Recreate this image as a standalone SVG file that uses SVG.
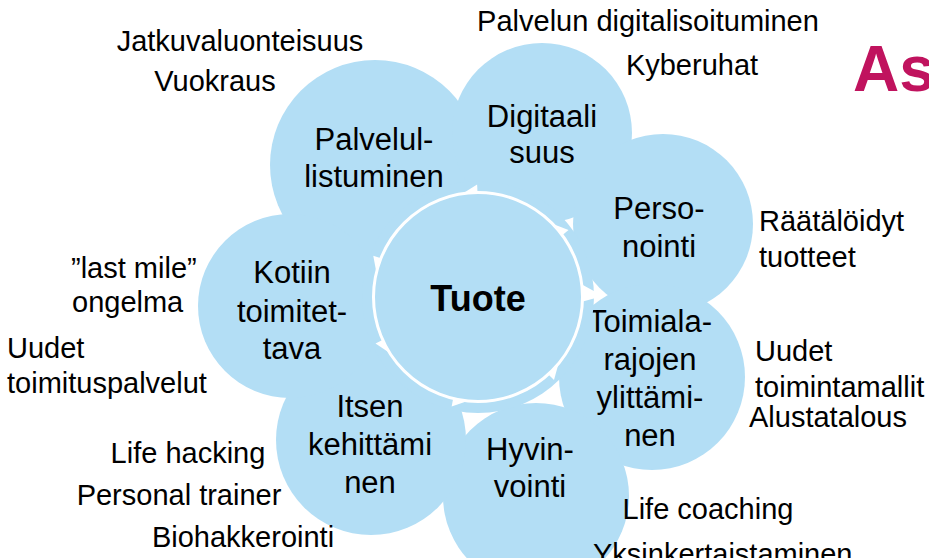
<svg xmlns="http://www.w3.org/2000/svg" width="929" height="558" viewBox="0 0 929 558">
<style>
.petal{fill:#B3DEF5;stroke:none}
.lbl{font-family:"Liberation Sans",Arial,sans-serif;font-size:31px;fill:#000;text-anchor:middle}
.ann{font-family:"Liberation Sans",Arial,sans-serif;font-size:29px;fill:#000}
.mid{text-anchor:middle}
.hub{fill:#B3DEF5;stroke:#fff;stroke-width:3}
.arrow{fill:#fff;stroke:none}
</style>
<rect width="929" height="558" fill="#fff"/>
<g id="palvelullistuminen">
<circle class="petal" cx="375" cy="165" r="105"/>
<text class="lbl" x="374" y="150">Palvelul-</text>
<text class="lbl" x="374" y="187">listuminen</text>
</g>
<g id="digitaalisuus">
<circle class="petal" cx="542" cy="133" r="90"/>
<text class="lbl" x="542" y="127">Digitaali</text>
<text class="lbl" x="542" y="163">suus</text>
</g>
<g id="personointi">
<circle class="petal" cx="663" cy="224" r="90"/>
<text class="lbl" x="659" y="219">Perso-</text>
<text class="lbl" x="659" y="257">nointi</text>
</g>
<g id="toimialarajojen">
<circle class="petal" cx="652" cy="377" r="93"/>
<text class="lbl" x="650" y="332">Toimiala-</text>
<text class="lbl" x="650" y="370">rajojen</text>
<text class="lbl" x="650" y="408">ylittämi-</text>
<text class="lbl" x="650" y="446">nen</text>
</g>
<g id="hyvinvointi">
<circle class="petal" cx="536" cy="496" r="93"/>
<text class="lbl" x="530" y="460">Hyvin-</text>
<text class="lbl" x="530" y="497">vointi</text>
</g>
<g id="itsenkehittaminen">
<circle class="petal" cx="371" cy="440" r="95"/>
<text class="lbl" x="370" y="417">Itsen</text>
<text class="lbl" x="370" y="455">kehittämi</text>
<text class="lbl" x="370" y="493">nen</text>
</g>
<g id="kotiintoimitettava">
<circle class="petal" cx="290" cy="306" r="92"/>
<text class="lbl" x="292" y="283">Kotiin</text>
<text class="lbl" x="292" y="322">toimitet-</text>
<text class="lbl" x="292" y="359">tava</text>
</g>
<g id="petal-core">
<circle class="petal" cx="478" cy="297" r="116"/>
</g>
<g id="connectors">
<polygon class="arrow" points="582.5,288 590.5,302 581.5,302" transform="rotate(-93 478 297)"/>
<polygon class="arrow" points="582.5,288 590.5,302 581.5,302" transform="rotate(-39 478 297)"/>
<polygon class="arrow" points="581,284 603,296 581,302"/>
<polygon class="arrow" points="582.5,288 590.5,302 581.5,302" transform="rotate(45 478 297)"/>
<polygon class="arrow" points="582.5,288 590.5,302 581.5,302" transform="rotate(101 478 297)"/>
<polygon class="arrow" points="582.5,288 590.5,302 581.5,302" transform="rotate(153 478 297)"/>
<polygon class="arrow" points="582.5,288 590.5,302 581.5,302" transform="rotate(199 478 297)"/>
</g>
<g id="tuote">
<circle class="hub" cx="478" cy="297" r="104.5"/>
<text x="478" y="311" font-family="Liberation Sans, Arial, sans-serif" font-size="36" font-weight="bold" text-anchor="middle">Tuote</text>
</g>
<g id="annotations">
<text class="ann mid" x="648" y="31">Palvelun digitalisoituminen</text>
<text class="ann mid" x="692" y="75">Kyberuhat</text>
<text class="ann mid" x="240" y="51">Jatkuvaluonteisuus</text>
<text class="ann mid" x="215" y="91">Vuokraus</text>
<text class="ann" x="759" y="231">Räätälöidyt</text>
<text class="ann" x="759" y="267">tuotteet</text>
<text class="ann" x="71" y="278">”last mile”</text>
<text class="ann" x="72" y="312">ongelma</text>
<text class="ann" x="7" y="358">Uudet</text>
<text class="ann" x="7" y="393">toimituspalvelut</text>
<text class="ann mid" x="188" y="463">Life hacking</text>
<text class="ann mid" x="179" y="505">Personal trainer</text>
<text class="ann mid" x="243" y="547">Biohakkerointi</text>
<text class="ann mid" x="708" y="519">Life coaching</text>
<text class="ann" x="593" y="564">Yksinkertaistaminen</text>
<text class="ann" x="755" y="361">Uudet</text>
<text class="ann" x="755" y="397">toimintamallit</text>
<text class="ann" x="749" y="427">Alustatalous</text>
</g>
<text x="853" y="91" font-family="Liberation Sans, Arial, sans-serif" font-size="64" font-weight="bold" fill="#C0135E">As</text>
</svg>
